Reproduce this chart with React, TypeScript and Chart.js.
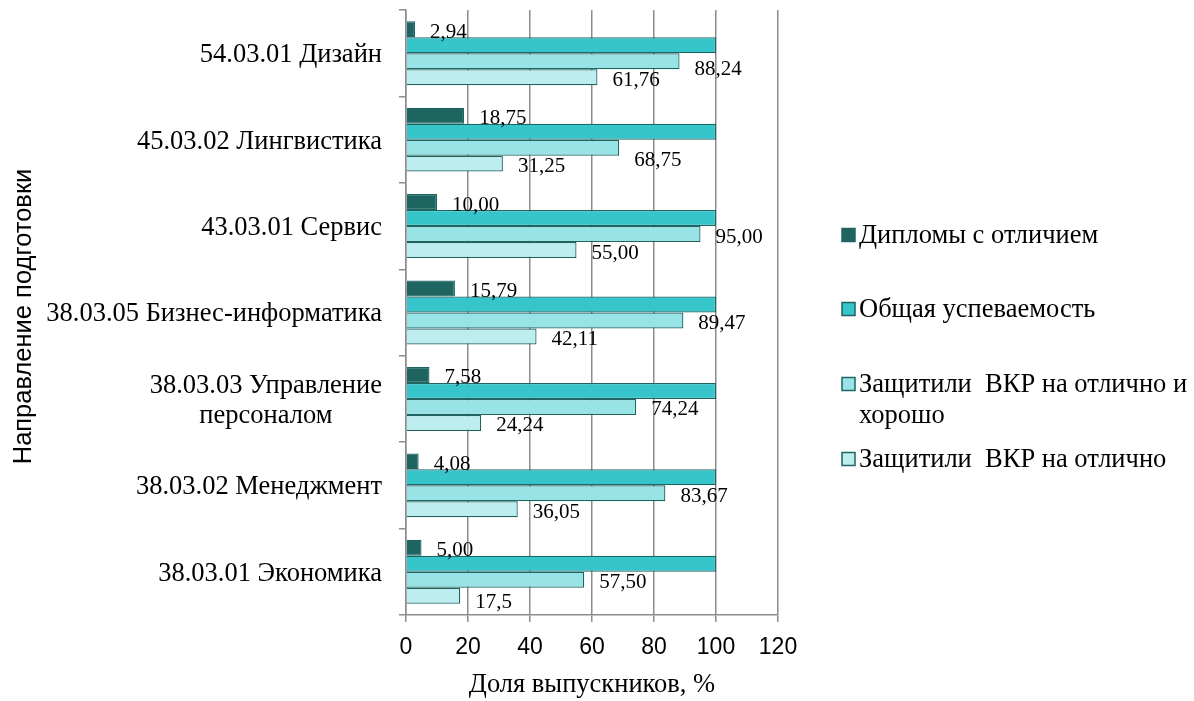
import { useEffect, useRef } from 'react';
import { Chart, registerables } from 'chart.js';
Chart.register(...registerables);

const categories: string[][] = [
  ['54.03.01 Дизайн'],
  ['45.03.02 Лингвистика'],
  ['43.03.01 Сервис'],
  ['38.03.05 Бизнес-информатика'],
  ['38.03.03 Управление', 'персоналом'],
  ['38.03.02 Менеджмент'],
  ['38.03.01 Экономика'],
];

const seriesNames: string[][] = [
  ['Дипломы с отличием'],
  ['Общая успеваемость'],
  ['Защитили  ВКР на отлично и', 'хорошо'],
  ['Защитили  ВКР на отлично'],
];

const honours = [2.94, 18.75, 10.0, 15.79, 7.58, 4.08, 5.0];
const overall = [100, 100, 100, 100, 100, 100, 100];
const goodExcellent = [88.24, 68.75, 95.0, 89.47, 74.24, 83.67, 57.5];
const excellent = [61.76, 31.25, 55.0, 42.11, 24.24, 36.05, 17.5];

const honoursLabels = ['2,94', '18,75', '10,00', '15,79', '7,58', '4,08', '5,00'];
const goodExcellentLabels = ['88,24', '68,75', '95,00', '89,47', '74,24', '83,67', '57,50'];
const excellentLabels = ['61,76', '31,25', '55,00', '42,11', '24,24', '36,05', '17,5'];

const xTicks = { min: 0, max: 120, step: 20 };
const axisTitleX = 'Доля выпускников, %';
const axisTitleY = 'Направление подготовки';

const fillColors = ['#1E6461', '#36C5CB', '#98E3E5', '#BDEDEE'];
const borderColor = '#1E6461';
const gridColor = '#8c8c8c';
const SERIF = '"Liberation Serif", "Times New Roman", serif';
const SANS = '"Liberation Sans", Arial, sans-serif';

const valueLabels: (string[] | null)[] = [honoursLabels, null, goodExcellentLabels, excellentLabels];
// extra vertical nudges of individual labels (dataset index -> per-category px), as placed in the original
const labelNudge: Record<number, number[]> = {
  2: [5, 10, 0, 0, 0, 0, 0],
  3: [0, 0, 0, 0, 0, 0, 4],
};

const drawPlugin = {
  id: 'customDraw',
  afterDraw(chart: any) {
    const ctx = chart.ctx as CanvasRenderingContext2D;
    const yScale = chart.scales.y;
    const area = chart.chartArea;
    ctx.save();
    ctx.fillStyle = '#000';

    // category labels
    ctx.font = `26.5px ${SERIF}`;
    ctx.textBaseline = 'middle';
    ctx.textAlign = 'center';
    const rightX = area.left - 24;
    const lh = 30;
    categories.forEach((lines, i) => {
      const cy = yScale.getPixelForValue(i);
      const maxW = Math.max(...lines.map((l) => ctx.measureText(l).width));
      lines.forEach((l, j) => {
        ctx.fillText(l, rightX - maxW / 2, cy + (j - (lines.length - 1) / 2) * lh + 2);
      });
    });

    // value labels
    ctx.font = `21px ${SERIF}`;
    ctx.textAlign = 'left';
    valueLabels.forEach((labels, di) => {
      if (!labels) return;
      const meta = chart.getDatasetMeta(di);
      const nudge = labelNudge[di] || [];
      meta.data.forEach((el: any, i: number) => {
        ctx.fillText(labels[i], el.x + 15, el.y + 3 + (nudge[i] || 0));
      });
    });

    // y title
    ctx.save();
    ctx.font = `25.5px ${SANS}`;
    ctx.textAlign = 'center';
    ctx.translate(24, (area.top + area.bottom) / 2 + 4);
    ctx.rotate(-Math.PI / 2);
    ctx.fillText(axisTitleY, 0, 0);
    ctx.restore();

    // x title
    ctx.font = `26.5px ${SERIF}`;
    ctx.textAlign = 'center';
    ctx.fillText(axisTitleX, (area.left + area.right) / 2, 685);

    // legend
    ctx.font = `26.5px ${SERIF}`;
    ctx.textAlign = 'left';
    const legendX = 842;
    const legendY = [235, 309, 384, 459];
    seriesNames.forEach((lines, i) => {
      const y = legendY[i];
      ctx.fillStyle = fillColors[i];
      ctx.fillRect(legendX, y - 6.5, 13, 13);
      ctx.strokeStyle = borderColor;
      ctx.lineWidth = 1.5;
      ctx.strokeRect(legendX, y - 6.5, 13, 13);
      ctx.fillStyle = '#000';
      lines.forEach((l, j) => ctx.fillText(l, legendX + 17, y + j * 31 + 1));
    });
    ctx.restore();
  },
};

export default function App() {
  const ref = useRef<HTMLCanvasElement>(null);
  useEffect(() => {
    document.body.style.margin = '0';
    const canvas = ref.current!;
    const data = [honours, overall, goodExcellent, excellent];
    const chart = new Chart(canvas, {
      type: 'bar',
      data: {
        labels: categories,
        datasets: data.map((d, i) => ({
          label: seriesNames[i].join(' '),
          data: d,
          backgroundColor: fillColors[i],
          borderColor: i === 0 ? fillColors[0] : borderColor,
          borderWidth: 1.25,
          categoryPercentage: 0.74,
          barPercentage: 1,
        })),
      },
      options: {
        indexAxis: 'y',
        responsive: false,
        animation: false,
        layout: { padding: { top: 10, right: 416, left: 0, bottom: 0 } },
        scales: {
          y: {
            offset: true,
            grid: { offset: true, drawOnChartArea: false, drawTicks: true, tickLength: 7, color: gridColor, lineWidth: 1.5 },
            border: { display: true, color: gridColor, width: 1.5 },
            ticks: { display: false },
            afterFit(s: any) { s.width = 406; },
          },
          x: {
            min: xTicks.min,
            max: xTicks.max,
            ticks: { stepSize: xTicks.step, font: { family: SANS, size: 23 }, color: '#000', padding: 12 },
            grid: { color: gridColor, lineWidth: 1.5, tickLength: 7 },
            border: { display: true, color: gridColor, width: 1.5 },
            afterFit(s: any) { s.height = 86; },
          },
        },
        plugins: { legend: { display: false }, tooltip: { enabled: false } },
      },
      plugins: [drawPlugin],
    });
    return () => chart.destroy();
  }, []);
  return (
    <div style={{ width: 1194, height: 701, background: '#fff' }}>
      <canvas ref={ref} width={1194} height={701} />
    </div>
  );
}
